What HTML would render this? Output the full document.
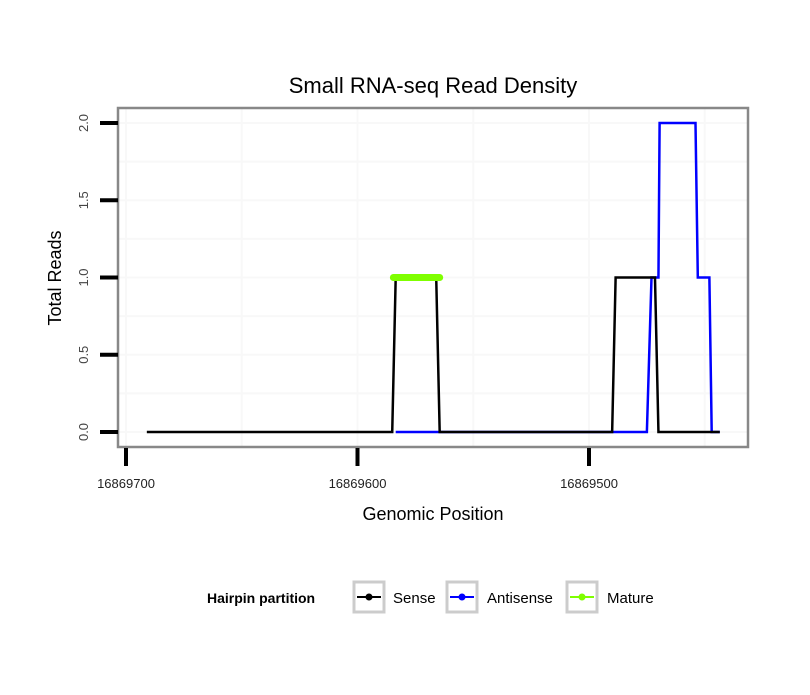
<!DOCTYPE html>
<html><head><meta charset="utf-8"><style>
body{margin:0;background:#fff;font-family:"Liberation Sans",sans-serif}
</style></head><body>
<svg id="c" width="810" height="690" xmlns="http://www.w3.org/2000/svg" font-family="Liberation Sans, sans-serif">
<rect width="810" height="690" fill="#fff"/>
<text x="433" y="93" font-size="22" text-anchor="middle">Small RNA-seq Read Density</text>
<g id="grid"></g>
<g id="marks"></g>
<rect x="118" y="108" width="630" height="339" fill="none" stroke="#888" stroke-width="2.5"/>
<g id="axes"></g>
<text x="433" y="520" font-size="18" text-anchor="middle">Genomic Position</text>
<text transform="translate(61,278) rotate(-90)" font-size="18" text-anchor="middle">Total Reads</text>
<g>
<text x="207" y="603" font-size="14" font-weight="bold">Hairpin partition</text>
<g><rect x="354" y="582" width="30" height="30" fill="#fff" stroke="#ccc" stroke-width="3"/><line x1="357" y1="597" x2="381" y2="597" stroke="#000" stroke-width="2"/><circle cx="369" cy="597" r="3.5" fill="#000"/><text x="393" y="603" font-size="15">Sense</text></g>
<g><rect x="447" y="582" width="30" height="30" fill="#fff" stroke="#ccc" stroke-width="3"/><line x1="450" y1="597" x2="474" y2="597" stroke="#00f" stroke-width="2"/><circle cx="462" cy="597" r="3.5" fill="#00f"/><text x="487" y="603" font-size="15">Antisense</text></g>
<g><rect x="567" y="582" width="30" height="30" fill="#fff" stroke="#ccc" stroke-width="3"/><line x1="570" y1="597" x2="594" y2="597" stroke="#7fff00" stroke-width="2"/><circle cx="582" cy="597" r="3.5" fill="#7fff00"/><text x="607" y="603" font-size="15">Mature</text></g>
</g>
</svg>
<script>
const xTicks=[16869700,16869600,16869500];
const xMinor=[16869650,16869550,16869450];
const yTicks=[0,0.5,1.0,1.5,2.0];
const yTickLabels=["0.0","0.5","1.0","1.5","2.0"];
const senseX=[16869691,16869585,16869583.5,16869566,16869564.5,16869490,16869488.5,16869471.5,16869470,16869443.5];
const senseY=[0,0,1,1,0,0,1,1,0,0];
const antiX=[16869583.5,16869475,16869473,16869470,16869469.5,16869454,16869453,16869448,16869447,16869443.5];
const antiY=[0,0,1,1,2,2,1,1,0,0];
const matureX=[16869584.5,16869564.5];
const matureY=[1,1];
const xs=p=>126+(16869700-p)*2.315;
const ys=v=>432-v*154.5;
const NS="http://www.w3.org/2000/svg";
function mk(t,a,parent){const e=document.createElementNS(NS,t);for(const k in a)e.setAttribute(k,a[k]);document.getElementById(parent).appendChild(e);return e;}
yTicks.forEach((v,i)=>{if(i<yTicks.length-1){const g=mk('line',{x1:119,x2:747,y1:ys(v+0.25),y2:ys(v+0.25),stroke:'#f8f8f8','stroke-width':2},'grid');

}
const l=mk('line',{x1:119,x2:747,y1:ys(v),y2:ys(v),stroke:'#f8f8f8','stroke-width':2},'grid');

});
xMinor.concat(xTicks).forEach(p=>{const l=mk('line',{x1:xs(p),x2:xs(p),y1:109,y2:446,stroke:'#f8f8f8','stroke-width':2},'grid');

});
function path(X,Y,col,w,name){const d=X.map((p,i)=>(i?'L':'M')+xs(p)+','+ys(Y[i])).join('');const e=mk('path',{d:d,fill:'none',stroke:col,'stroke-width':w,'stroke-linecap':w>3?'round':'butt'},'marks');

}
path(antiX,antiY,'#00f',2.5,'antisense-line');
path(senseX,senseY,'#000',2.5,'sense-line');
path(matureX,matureY,'#7fff00',7,'mature-line');
yTicks.forEach((v,i)=>{const t=mk('line',{x1:100,x2:118,y1:ys(v),y2:ys(v),stroke:'#000','stroke-width':4},'axes');


const tx=mk('text',{transform:`translate(88,${ys(v)}) rotate(-90)`,'font-size':13,'text-anchor':'middle',fill:'#444'},'axes');tx.textContent=yTickLabels[i];

});
xTicks.forEach(p=>{const t=mk('line',{x1:xs(p),x2:xs(p),y1:448,y2:466,stroke:'#000','stroke-width':4},'axes');


const tx=mk('text',{x:xs(p),y:488,'font-size':13,'text-anchor':'middle',fill:'#222'},'axes');tx.textContent=p;

});
</script>
</body></html>
